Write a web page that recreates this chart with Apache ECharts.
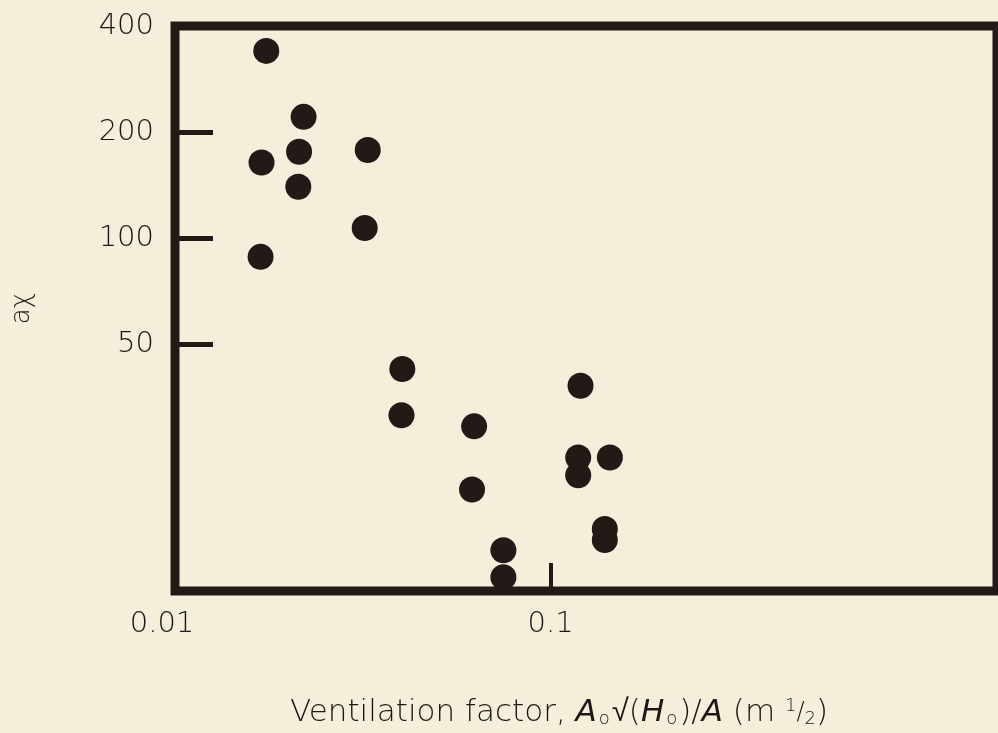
<!DOCTYPE html>
<html>
<head>
<meta charset="utf-8">
<title>aχ vs ventilation factor</title>
<script src="https://cdn.jsdelivr.net/npm/echarts@6/dist/echarts.min.js"></script>
<style>
  html, body { margin: 0; padding: 0; background: #f5eedb; }
  #chart { width: 998px; height: 733px; }
</style>
</head>
<body>
<div id="chart"></div>
<script>
// Ventilation factor A0*sqrt(H0)/A (m^1/2) for each test
const ventilationFactor = [
  0.0175, 0.0220, 0.0214, 0.0170, 0.0213, 0.0169,
  0.0326, 0.0320,
  0.0403, 0.0401,
  0.0626, 0.0618,
  0.0749, 0.0749,
  0.1202, 0.1185, 0.1185, 0.1439, 0.1395, 0.1395
];
// Corresponding aχ values
const aChi = [
  340, 221, 176, 164, 140, 88.6,
  178, 107,
  42.6, 31.5,
  29.3, 19.4,
  13.05, 10.94,
  38.2, 23.9, 21.3, 23.9, 15.0, 13.95
];

// Axis ticks and labels
const xTickValues = [0.1];
const xLabelValues = [0.01, 0.1];
const yTickValues = [50, 100, 200];
const yLabelValues = [50, 100, 200, 400];

const ink = '#231a17';
const textInk = '#1e1614';
const fontFamily = "'DejaVu Sans', sans-serif";

const points = ventilationFactor.map((v, i) => [v, aChi[i]]);

const chart = echarts.init(document.getElementById('chart'), null, { renderer: 'canvas' });
chart.setOption({
  backgroundColor: '#f5eedb',
  animation: false,
  grid: {
    left: 175, right: 1, top: 26, bottom: 142,
    show: true,
    borderColor: ink,
    borderWidth: 9,
    backgroundColor: 'transparent'
  },
  xAxis: {
    type: 'log',
    logBase: 10,
    min: 0.01,
    max: 1.545,
    axisLine: { show: false },
    splitLine: { show: false },
    minorTick: { show: false },
    axisTick: {
      show: true, inside: true, length: 28,
      customValues: xTickValues,
      lineStyle: { color: ink, width: 4 }
    },
    axisLabel: {
      show: true,
      customValues: xLabelValues,
      margin: 19,
      color: textInk,
      fontFamily: fontFamily,
      fontWeight: 200,
      fontSize: 29,
      formatter: function (v) {
        if (Math.abs(v - 0.01) < 1e-6) return '{shift|0.01}';
        return '0.1';
      },
      rich: {
        shift: { fontFamily: fontFamily, fontWeight: 200, fontSize: 29, color: textInk, padding: [0, 26, 0, 0] }
      }
    },
    name: 'Ventilation factor, {i|A}{s|o}√({i|H}{s|o})/{i|A} (m {sup|1}{sl|/}{sub|2})',
    nameLocation: 'middle',
    nameGap: 106,
    nameTextStyle: {
      color: textInk,
      fontFamily: fontFamily,
      fontWeight: 200,
      fontSize: 31,
      padding: [0, 54, 0, 0],
      rich: {
        i: { fontFamily: fontFamily, fontWeight: 200, fontSize: 31, fontStyle: 'italic', color: textInk },
        s: { fontFamily: fontFamily, fontWeight: 200, fontSize: 18, color: textInk, verticalAlign: 'bottom', padding: [0, 2, 0, 2] },
        sup: { fontFamily: fontFamily, fontWeight: 200, fontSize: 18, color: textInk, verticalAlign: 'top' },
        sl: { fontFamily: fontFamily, fontWeight: 200, fontSize: 24, color: textInk },
        sub: { fontFamily: fontFamily, fontWeight: 200, fontSize: 18, color: textInk, verticalAlign: 'bottom' }
      }
    }
  },
  yAxis: {
    type: 'log',
    logBase: 10,
    min: 10,
    max: 400,
    axisLine: { show: false },
    splitLine: { show: false },
    minorTick: { show: false },
    axisTick: {
      show: true, inside: true, length: 38,
      customValues: yTickValues,
      lineStyle: { color: ink, width: 5 }
    },
    axisLabel: {
      show: true,
      customValues: yLabelValues,
      margin: 21,
      color: textInk,
      fontFamily: fontFamily,
      fontWeight: 200,
      fontSize: 29,
      formatter: function (v) { return String(Math.round(v)); }
    },
    name: 'aχ',
    nameLocation: 'middle',
    nameRotate: 90,
    nameGap: 140,
    nameTextStyle: {
      color: textInk,
      fontFamily: fontFamily,
      fontWeight: 200,
      fontSize: 26
    }
  },
  series: [{
    type: 'scatter',
    data: points,
    symbol: 'circle',
    symbolSize: 26,
    clip: false,
    itemStyle: { color: ink, opacity: 1 }
  }]
});
</script>
</body>
</html>
